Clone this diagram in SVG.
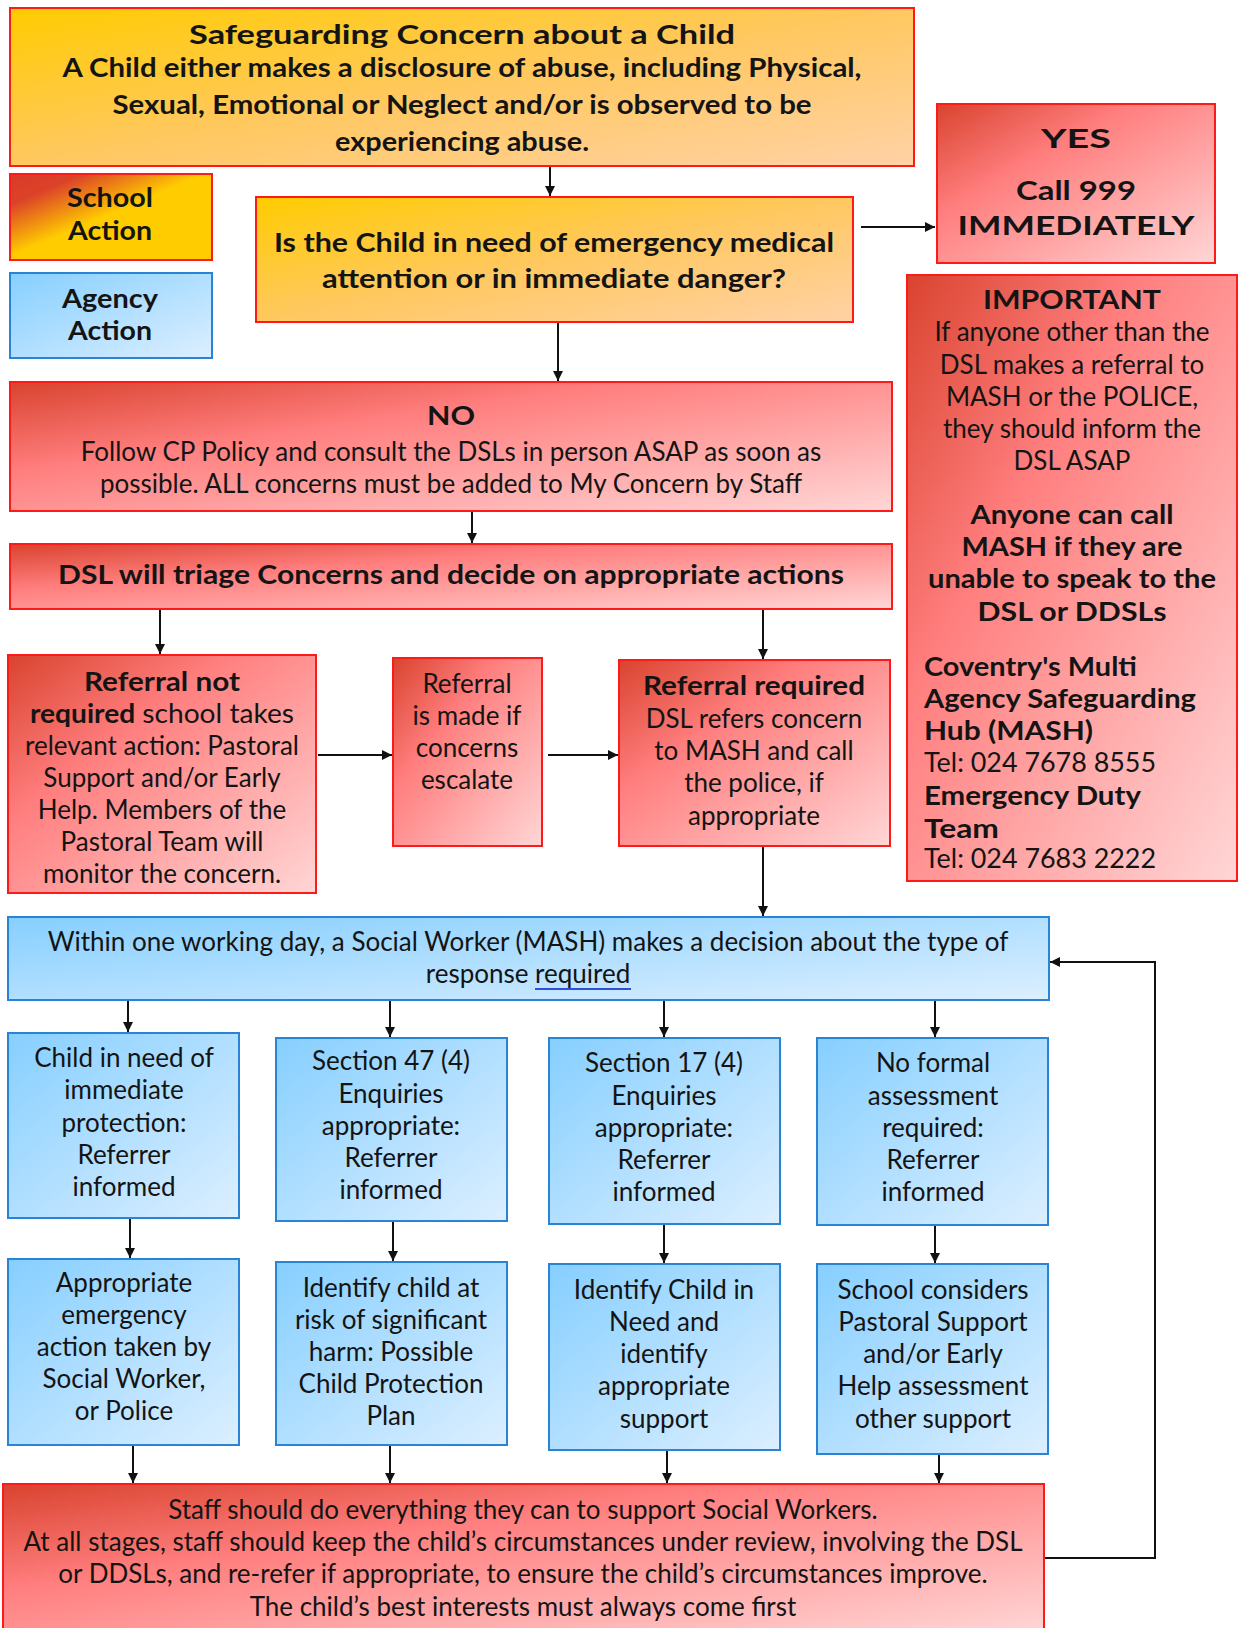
<svg xmlns="http://www.w3.org/2000/svg" width="1240" height="1628" viewBox="0 0 1240 1628">
<defs>
<linearGradient id="gOr" x1="0" y1="0" x2="1" y2="1"><stop offset="0" stop-color="#FFCC00"/><stop offset="0.5" stop-color="#FFC860"/><stop offset="1" stop-color="#FFD2A6"/></linearGradient>
<linearGradient id="gSch" x1="0" y1="0" x2="1" y2="1"><stop offset="0" stop-color="#D93A2B"/><stop offset="0.18" stop-color="#DC4228"/><stop offset="0.48" stop-color="#FFCC00"/><stop offset="1" stop-color="#FFCC00"/></linearGradient>
<linearGradient id="gRed" x1="0" y1="0" x2="1" y2="1"><stop offset="0" stop-color="#D9432E"/><stop offset="0.35" stop-color="#FF7E7E"/><stop offset="1" stop-color="#FFD6D6"/></linearGradient>
<linearGradient id="gBlu" x1="0" y1="0" x2="1" y2="1"><stop offset="0" stop-color="#86CFFF"/><stop offset="1" stop-color="#DCEFFF"/></linearGradient>
<marker id="ah" markerUnits="userSpaceOnUse" markerWidth="10" markerHeight="10" refX="10" refY="5" orient="auto"><path d="M0,0 L10,5 L0,10 z" fill="#111"/></marker>
</defs>
<style>
.or{fill:url(#gOr);stroke:#FF1A1A;stroke-width:2}
.sc{fill:url(#gSch);stroke:#FF1A1A;stroke-width:2}
.rd{fill:url(#gRed);stroke:#FF1A1A;stroke-width:2}
.bl{fill:url(#gBlu);stroke:#2A84D6;stroke-width:2}
text{font-family:Lato,"Open Sans","Liberation Sans",sans-serif;font-size:26px;fill:#141414;text-anchor:middle}
.b{font-weight:700}
.l{text-anchor:start}
.c line,.c path{stroke:#111;stroke-width:2;fill:none;marker-end:url(#ah)}
</style>

<g id="top"><rect class="or" x="10" y="8" width="904" height="158"/>
<text class="b" x="462" y="44" font-size="33" textLength="546" lengthAdjust="spacingAndGlyphs">Safeguarding Concern about a Child</text>
<text class="b" x="462" y="77" font-size="27" textLength="799" lengthAdjust="spacingAndGlyphs">A Child either makes a disclosure of abuse, including Physical,</text>
<text class="b" x="462" y="114" font-size="27" textLength="699" lengthAdjust="spacingAndGlyphs">Sexual, Emotional or Neglect and/or is observed to be</text>
<text class="b" x="462" y="151" font-size="27" textLength="254" lengthAdjust="spacingAndGlyphs">experiencing abuse.</text></g>

<g id="school-action"><rect class="sc" x="10" y="174" width="202" height="86"/>
<text class="b" x="110" y="207" font-size="28" textLength="86" lengthAdjust="spacingAndGlyphs">School</text>
<text class="b" x="110" y="240" font-size="28" textLength="84" lengthAdjust="spacingAndGlyphs">Action</text></g>

<g id="agency-action"><rect class="bl" x="10" y="273" width="202" height="85"/>
<text class="b" x="110" y="308" font-size="28" textLength="96" lengthAdjust="spacingAndGlyphs">Agency</text>
<text class="b" x="110" y="340" font-size="28" textLength="84" lengthAdjust="spacingAndGlyphs">Action</text></g>

<g id="question"><rect class="or" x="256" y="197" width="597" height="125"/>
<text class="b" x="554" y="252" font-size="28" textLength="560" lengthAdjust="spacingAndGlyphs">Is the Child in need of emergency medical</text>
<text class="b" x="554" y="288" font-size="28" textLength="464" lengthAdjust="spacingAndGlyphs">attention or in immediate danger?</text></g>

<g id="yes"><rect class="rd" x="937" y="104" width="278" height="159"/>
<text class="b" x="1076" y="148" font-size="38" textLength="70" lengthAdjust="spacingAndGlyphs">YES</text>
<text class="b" x="1076" y="200" font-size="32" textLength="120" lengthAdjust="spacingAndGlyphs">Call 999</text>
<text class="b" x="1076" y="235" font-size="32" textLength="237" lengthAdjust="spacingAndGlyphs">IMMEDIATELY</text></g>

<g id="important"><rect class="rd" x="907" y="275" width="330" height="606"/>
<text class="b" x="1072" y="309" font-size="29" textLength="178" lengthAdjust="spacingAndGlyphs">IMPORTANT</text>
<text x="1072" y="341">If anyone other than the</text>
<text x="1072" y="374">DSL makes a referral to</text>
<text x="1072" y="406">MASH or the POLICE,</text>
<text x="1072" y="438">they should inform the</text>
<text x="1072" y="470">DSL ASAP</text>
<text class="b" x="1072" y="524" font-size="27" textLength="203" lengthAdjust="spacingAndGlyphs">Anyone can call</text>
<text class="b" x="1072" y="556" font-size="27" textLength="221" lengthAdjust="spacingAndGlyphs">MASH if they are</text>
<text class="b" x="1072" y="588" font-size="27" textLength="288" lengthAdjust="spacingAndGlyphs">unable to speak to the</text>
<text class="b" x="1072" y="621" font-size="27" textLength="189" lengthAdjust="spacingAndGlyphs">DSL or DDSLs</text>
<text class="b l" x="924" y="676" font-size="28" textLength="213" lengthAdjust="spacingAndGlyphs">Coventry's Multi</text>
<text class="b l" x="924" y="708" font-size="28" textLength="272" lengthAdjust="spacingAndGlyphs">Agency Safeguarding</text>
<text class="b l" x="924" y="740" font-size="28" textLength="169" lengthAdjust="spacingAndGlyphs">Hub (MASH)</text>
<text class="l" x="924" y="772" textLength="232" lengthAdjust="spacingAndGlyphs">Tel: 024 7678 8555</text>
<text class="b l" x="924" y="805" font-size="28" textLength="217" lengthAdjust="spacingAndGlyphs">Emergency Duty</text>
<text class="b l" x="924" y="838" font-size="28" textLength="75" lengthAdjust="spacingAndGlyphs">Team</text>
<text class="l" x="924" y="868" textLength="232" lengthAdjust="spacingAndGlyphs">Tel: 024 7683 2222</text></g>

<g id="no"><rect class="rd" x="10" y="382" width="882" height="129"/>
<text class="b" x="451" y="425" font-size="30" textLength="48" lengthAdjust="spacingAndGlyphs">NO</text>
<text x="451" y="461">Follow CP Policy and consult the DSLs in person ASAP as soon as</text>
<text x="451" y="493">possible. ALL concerns must be added to My Concern by Staff</text></g>

<g id="dsl-triage"><rect class="rd" x="10" y="544" width="882" height="65"/>
<text class="b" x="451" y="584" font-size="28" textLength="786" lengthAdjust="spacingAndGlyphs">DSL will triage Concerns and decide on appropriate actions</text></g>

<g id="referral-not-required"><rect class="rd" x="8" y="655" width="308" height="238"/>
<text class="b" x="162" y="691" font-size="27" textLength="156" lengthAdjust="spacingAndGlyphs">Referral not</text>
<text x="162" y="723" textLength="264" lengthAdjust="spacingAndGlyphs"><tspan class="b">required</tspan> school takes</text>
<text x="162" y="755">relevant action: Pastoral</text>
<text x="162" y="787">Support and/or Early</text>
<text x="162" y="819">Help. Members of the</text>
<text x="162" y="851">Pastoral Team will</text>
<text x="162" y="883">monitor the concern.</text></g>

<g id="referral-made"><rect class="rd" x="393" y="658" width="149" height="188"/>
<text x="467" y="693">Referral</text>
<text x="467" y="725">is made if</text>
<text x="467" y="757">concerns</text>
<text x="467" y="789">escalate</text></g>

<g id="referral-required"><rect class="rd" x="619" y="660" width="271" height="186"/>
<text class="b" x="754" y="695" font-size="27" textLength="222" lengthAdjust="spacingAndGlyphs">Referral required</text>
<text x="754" y="728">DSL refers concern</text>
<text x="754" y="760">to MASH and call</text>
<text x="754" y="792">the police, if</text>
<text x="754" y="825">appropriate</text></g>

<g id="within"><rect class="bl" x="8" y="917" width="1041" height="83"/>
<text x="528" y="951">Within one working day, a Social Worker (MASH) makes a decision about the type of</text>
<text x="528" y="983">response required</text>
<line x1="535" y1="989" x2="631" y2="989" stroke="#2F4FD8" stroke-width="2"/></g>

<g id="immediate-protection"><rect class="bl" x="8" y="1033" width="231" height="185"/>
<text x="124" y="1067">Child in need of</text>
<text x="124" y="1099">immediate</text>
<text x="124" y="1132">protection:</text>
<text x="124" y="1164">Referrer</text>
<text x="124" y="1196">informed</text></g>

<g id="section-47"><rect class="bl" x="276" y="1038" width="231" height="183"/>
<text x="391" y="1070">Section 47 (4)</text>
<text x="391" y="1103">Enquiries</text>
<text x="391" y="1135">appropriate:</text>
<text x="391" y="1167">Referrer</text>
<text x="391" y="1199">informed</text></g>

<g id="section-17"><rect class="bl" x="549" y="1038" width="231" height="186"/>
<text x="664" y="1072">Section 17 (4)</text>
<text x="664" y="1105">Enquiries</text>
<text x="664" y="1137">appropriate:</text>
<text x="664" y="1169">Referrer</text>
<text x="664" y="1201">informed</text></g>

<g id="no-formal"><rect class="bl" x="817" y="1038" width="231" height="187"/>
<text x="933" y="1072">No formal</text>
<text x="933" y="1105">assessment</text>
<text x="933" y="1137">required:</text>
<text x="933" y="1169">Referrer</text>
<text x="933" y="1201">informed</text></g>

<g id="emergency-action"><rect class="bl" x="8" y="1259" width="231" height="186"/>
<text x="124" y="1292">Appropriate</text>
<text x="124" y="1324">emergency</text>
<text x="124" y="1356">action taken by</text>
<text x="124" y="1388">Social Worker,</text>
<text x="124" y="1420">or Police</text></g>

<g id="significant-harm"><rect class="bl" x="276" y="1262" width="231" height="183"/>
<text x="391" y="1297">Identify child at</text>
<text x="391" y="1329">risk of significant</text>
<text x="391" y="1361">harm: Possible</text>
<text x="391" y="1393">Child Protection</text>
<text x="391" y="1425">Plan</text></g>

<g id="child-in-need"><rect class="bl" x="549" y="1264" width="231" height="186"/>
<text x="664" y="1299">Identify Child in</text>
<text x="664" y="1331">Need and</text>
<text x="664" y="1363">identify</text>
<text x="664" y="1395">appropriate</text>
<text x="664" y="1428">support</text></g>

<g id="school-considers"><rect class="bl" x="817" y="1264" width="231" height="190"/>
<text x="933" y="1299">School considers</text>
<text x="933" y="1331">Pastoral Support</text>
<text x="933" y="1363">and/or Early</text>
<text x="933" y="1395">Help assessment</text>
<text x="933" y="1428">other support</text></g>

<g id="bottom"><rect class="rd" x="3" y="1484" width="1041" height="150"/>
<text x="523" y="1519">Staff should do everything they can to support Social Workers.</text>
<text x="523" y="1551">At all stages, staff should keep the child’s circumstances under review, involving the DSL</text>
<text x="523" y="1583">or DDSLs, and re-refer if appropriate, to ensure the child’s circumstances improve.</text>
<text x="523" y="1616">The child’s best interests must always come first</text></g>

<g id="connectors" class="c">
<line x1="550" y1="167" x2="550" y2="196"/>
<line x1="861" y1="227" x2="935" y2="227"/>
<line x1="558" y1="323" x2="558" y2="381"/>
<line x1="472" y1="512" x2="472" y2="543"/>
<line x1="160" y1="610" x2="160" y2="654"/>
<line x1="763" y1="610" x2="763" y2="659"/>
<line x1="318" y1="755" x2="392" y2="755"/>
<line x1="548" y1="755" x2="618" y2="755"/>
<line x1="763" y1="847" x2="763" y2="916"/>
<line x1="128" y1="1001" x2="128" y2="1032"/>
<line x1="390" y1="1001" x2="390" y2="1037"/>
<line x1="664" y1="1001" x2="664" y2="1037"/>
<line x1="935" y1="1001" x2="935" y2="1037"/>
<line x1="130" y1="1219" x2="130" y2="1258"/>
<line x1="393" y1="1222" x2="393" y2="1261"/>
<line x1="664" y1="1225" x2="664" y2="1263"/>
<line x1="935" y1="1226" x2="935" y2="1263"/>
<line x1="133" y1="1446" x2="133" y2="1483"/>
<line x1="390" y1="1446" x2="390" y2="1483"/>
<line x1="667" y1="1451" x2="667" y2="1483"/>
<line x1="939" y1="1455" x2="939" y2="1483"/>
<path d="M1045,1558 H1155 V962 H1050"/>
</g>
</svg>
